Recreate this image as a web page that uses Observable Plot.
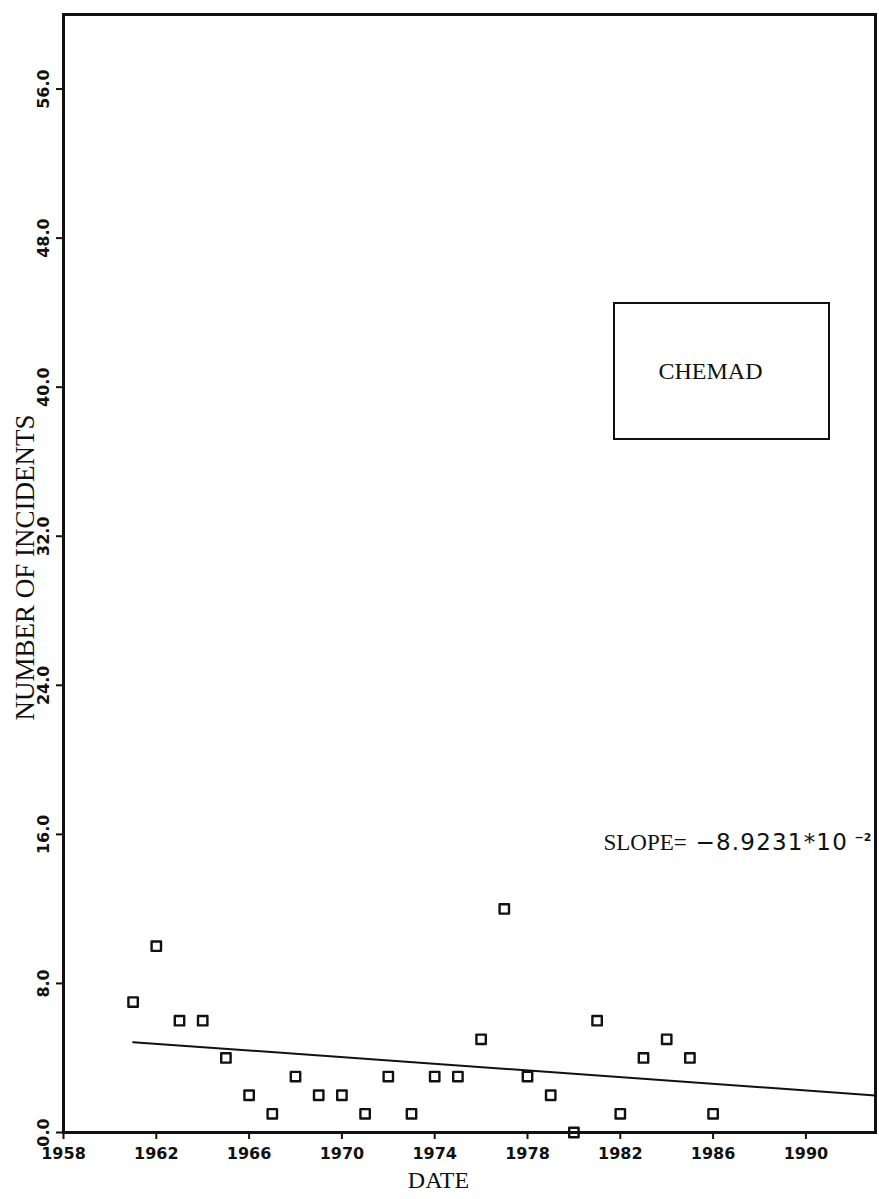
<!DOCTYPE html>
<html>
<head>
<meta charset="utf-8">
<script src="https://cdn.jsdelivr.net/npm/d3@7"></script>
<script src="https://cdn.jsdelivr.net/npm/@observablehq/plot@0.6"></script>
<style>
  body { margin: 0; background: #fff; }
  #wrap { position: relative; width: 879px; height: 1199px; overflow: hidden; }
  #legend {
    position: absolute; left: 613px; top: 302px; width: 217px; height: 138px;
    box-sizing: border-box; border: 2.5px solid #111; background: #fff;
    display: flex; align-items: center; justify-content: center; padding-right: 22px;
    font-family: "Liberation Serif", serif; font-size: 24px; color: #111;
  }
</style>
</head>
<body>
<div id="wrap"><div id="chart"></div><div id="legend"></div></div>
<script>
// ---- data ----
const years = [1961, 1962, 1963, 1964, 1965, 1966, 1967, 1968, 1969, 1970, 1971, 1972, 1973,
               1974, 1975, 1976, 1977, 1978, 1979, 1980, 1981, 1982, 1983, 1984, 1985, 1986];
const incidents = [7, 10, 6, 6, 4, 2, 1, 3, 2, 2, 1, 3, 1,
                   3, 3, 5, 12, 3, 2, 0, 6, 1, 4, 5, 4, 1];
const xDomain = [1958, 1993];
const yDomain = [0, 60];
const xTicks = [1958, 1962, 1966, 1970, 1974, 1978, 1982, 1986, 1990];
const yTicks = [0, 8, 16, 24, 32, 40, 48, 56];
const seriesName = "CHEMAD";
const xLabel = "DATE";
const yLabel = "NUMBER OF INCIDENTS";

// ---- build table & least-squares fit ----
const points = years.map((yr, i) => ({year: yr, count: incidents[i]}));
const mx = d3.mean(years), my = d3.mean(incidents);
const sxy = d3.sum(points, d => (d.year - mx) * (d.count - my));
const sxx = d3.sum(points, d => (d.year - mx) ** 2);
const slope = sxy / sxx;
const intercept = my - slope * mx;
const fitLine = [years[0], xDomain[1]].map(x => ({year: x, count: intercept + slope * x}));
const expo = Math.floor(Math.log10(Math.abs(slope)));
const mant = slope / Math.pow(10, expo);
const minus = s => s.replace("-", "\u2212");
const slopeNumber = minus(mant.toFixed(4)) + "*10";
const slopeExp = minus(String(expo));

const ink = "#111";
const serif = "Liberation Serif, serif";
const sans = "DejaVu Sans, sans-serif";

const chart = Plot.plot({
  width: 879,
  height: 1199,
  marginLeft: 63,
  marginRight: 4,
  marginTop: 14,
  marginBottom: 67,
  style: {background: "#fff", color: ink},
  x: {domain: xDomain},
  y: {domain: yDomain},
  marks: [
    Plot.axisX({ticks: xTicks, tickFormat: d => String(d), tickSize: 7, tickPadding: 8,
      fontSize: 16, fontWeight: "bold", fontFamily: sans, strokeWidth: 2, label: null}),
    Plot.axisY({ticks: yTicks, tickFormat: () => "", tickSize: 7, strokeWidth: 2, label: null}),
    Plot.text(yTicks, {y: d => d, text: d => d.toFixed(1), frameAnchor: "left", textAnchor: "middle",
      rotate: -90, dx: -20, fontSize: 16, fontWeight: "bold", fontFamily: sans, fill: ink}),
    Plot.frame({stroke: ink, strokeWidth: 3}),
    Plot.line(fitLine, {x: "year", y: "count", stroke: ink, strokeWidth: 2}),
    Plot.dot(points, {x: "year", y: "count", symbol: "square", r: 5.3, stroke: ink, strokeWidth: 2.4,
      fill: "none", strokeLinejoin: "round"}),
    Plot.text([yLabel], {frameAnchor: "left", textAnchor: "middle", rotate: -90, dx: -38, dy: -6,
      fontSize: 27, fontFamily: serif, fill: ink}),
    Plot.text([xLabel], {frameAnchor: "bottom", textAnchor: "middle", dx: -31, dy: 55, fontSize: 24,
      fontFamily: serif, fill: ink}),
    Plot.text(["SLOPE="], {frameAnchor: "bottom-right", textAnchor: "start", dx: -272, dy: -283,
      fontSize: 23, fontFamily: serif, fill: ink}),
    Plot.text([slopeNumber], {frameAnchor: "bottom-right", textAnchor: "start", dx: -180, dy: -283,
      fontSize: 23, fontFamily: sans, fill: ink}),
    Plot.text([slopeExp], {frameAnchor: "bottom-right", textAnchor: "start", dx: -21, dy: -292,
      fontSize: 11, fontFamily: sans, fontWeight: "bold", fill: ink})
  ]
});
document.getElementById("chart").appendChild(chart);
d3.select(chart).selectAll("text").filter(function () { return this.textContent === slopeNumber; })
  .attr("letter-spacing", "1.2px");
document.getElementById("legend").textContent = seriesName;
</script>
</body>
</html>
